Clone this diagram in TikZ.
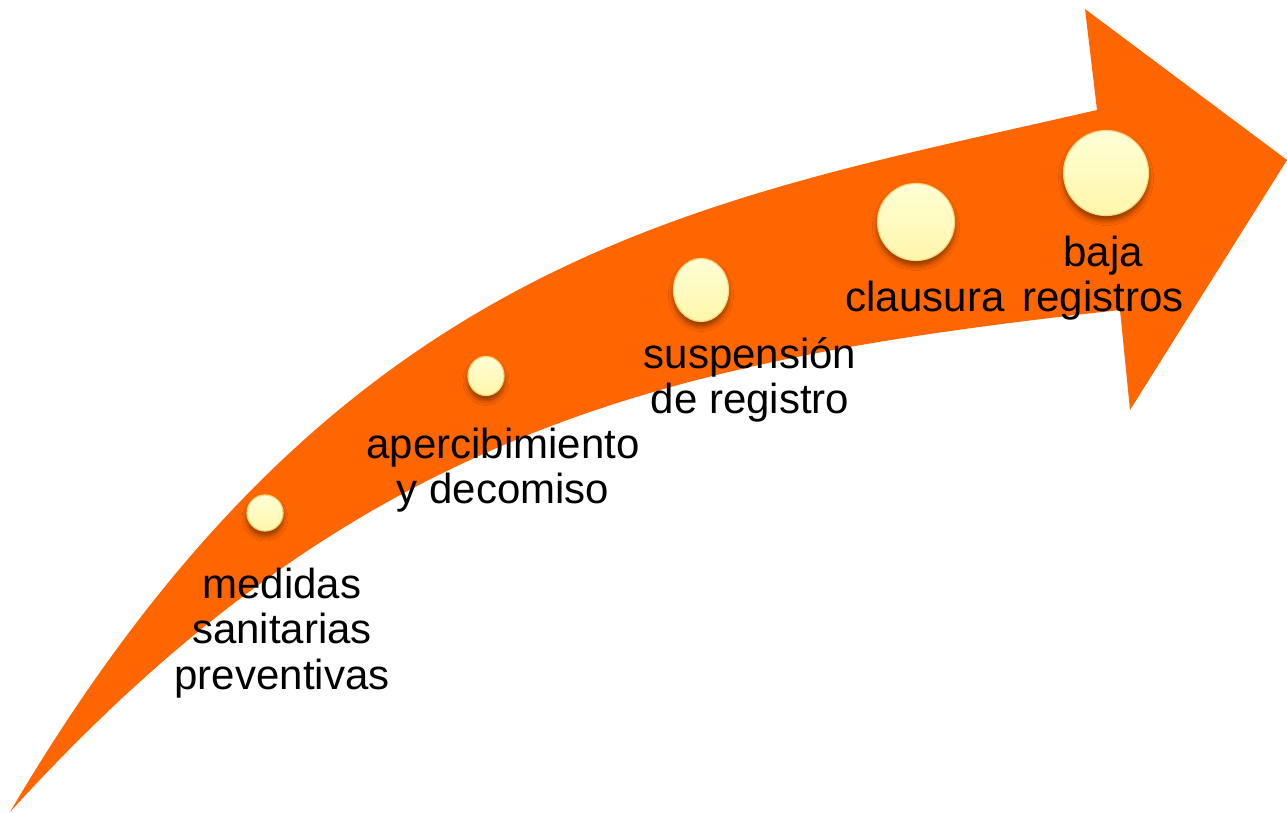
\documentclass[tikz,border=0pt]{standalone}
\usepackage{fontspec}
\setmainfont{Liberation Sans}
\usetikzlibrary{shapes.geometric,shadows.blur}
\definecolor{arroworange}{RGB}{255,102,0}
\definecolor{dottop}{RGB}{255,255,214}
\definecolor{dotbot}{RGB}{255,246,170}
\definecolor{dotrim}{RGB}{242,216,125}
\begin{document}
\begin{tikzpicture}[x=1pt,y=-1pt,
  dot/.style={ellipse, inner sep=0pt, draw=dotrim, line width=1.2pt,
    top color=dottop, bottom color=dotbot,
    blur shadow={shadow xshift=0pt, shadow yshift=-5pt, shadow blur radius=5pt,
      shadow opacity=45, shadow blur steps=6}},
  lbl/.style={align=center, inner sep=0pt, font=\fontsize{42}{45.5}\selectfont}]
\useasboundingbox (0,0) rectangle (1287,813);
% curved arrow
\fill[arroworange] (10,812) .. controls (340,251) and (697,202) .. (1097,110)
  -- (1085,9) -- (1287,160) -- (1130,410) -- (1120,310)
  .. controls (670,359.5) and (360,427) .. (10,812) -- cycle;
% milestones
\node[dot, minimum width=36pt, minimum height=36pt] (c1) at (265,513) {};
\node[dot, minimum width=36pt, minimum height=39pt] (c2) at (486,376) {};
\node[dot, minimum width=55pt, minimum height=63pt] (c3) at (701,290) {};
\node[dot, minimum width=77pt, minimum height=77pt] (c4) at (916,222) {};
\node[dot, minimum width=85pt, minimum height=85pt] (c5) at (1106,173) {};
% labels
\node[lbl] (t1) at (282,633) {medidas\\sanitarias\\preventivas};
\node[lbl] (t2) at (503,470) {apercibimiento\\y decomiso};
\node[lbl] (t3) at (750,380) {suspensión\\de registro};
\node[lbl, anchor=base] (t4) at (925,311) {clausura};
\node[lbl] (t5) at (1103,278) {baja\\registros};
\end{tikzpicture}
\end{document}
